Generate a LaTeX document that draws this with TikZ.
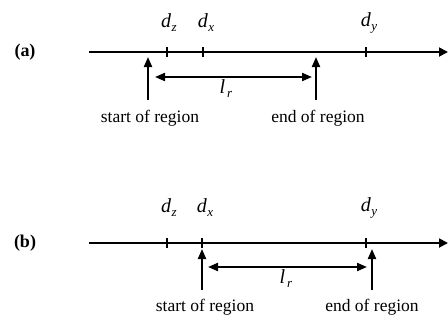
\documentclass[tikz,border=0pt]{standalone}
\usepackage{fontspec}
\setmainfont{Liberation Serif}
\usetikzlibrary{arrows.meta}
\tikzset{
  axisline/.style={line width=1.8pt,-{Triangle[length=9pt,width=9pt]}},
  tick/.style={line width=1.5pt},
  uparrow/.style={line width=2pt,-{Triangle[length=10pt,width=8pt]}},
  span/.style={line width=2pt,{Triangle[length=10pt,width=8pt]}-{Triangle[length=10pt,width=8pt]}},
  txt/.style={inner sep=0pt,font=\fontsize{17.5}{20}\selectfont},
  panel/.style={inner sep=0pt,font=\fontsize{18}{21}\selectfont\bfseries},
  dlab/.style={inner sep=0pt,font=\fontsize{20}{23}\selectfont},
}
\newcommand{\dl}[1]{\textit{d}\kern0.5pt\raisebox{-4pt}{\fontsize{13}{14}\selectfont\textit{#1}}}
\newcommand{\lr}{\textit{l}\kern2pt\raisebox{-4pt}{\fontsize{13}{14}\selectfont\textit{r}}}
\begin{document}
\begin{tikzpicture}[x=1pt,y=-1pt]
\useasboundingbox (0,0) rectangle (448,325);
% panel (a)
\node[panel] (pa) at (25,52) {(a)};
\coordinate (a0) at (89,52);
\coordinate (a1) at (448,52);
\draw[axisline] (a0) -- (a1);
\coordinate (az) at (167,52);
\coordinate (ax) at (203,52);
\coordinate (ay) at (366,52);
\foreach \p in {az,ax,ay} \draw[tick] ([yshift=-5pt]\p) -- ([yshift=5pt]\p);
\node[dlab] (laz) at (169,23) {\dl{z}};
\node[dlab] (lax) at (206,23) {\dl{x}};
\node[dlab] (lay) at (369,23) {\dl{y}};
\coordinate (as0) at (148,100);
\coordinate (as1) at (148,57);
\coordinate (ae0) at (316,100);
\coordinate (ae1) at (316,57);
\draw[uparrow] (as0) -- (as1);
\draw[uparrow] (ae0) -- (ae1);
\coordinate (al) at (155,77);
\coordinate (ar) at (312,77);
\draw[span] (al) -- (ar);
\node[dlab] (alr) at (226,89) {\lr};
\node[txt] (ast) at (150,118) {start of region};
\node[txt] (aen) at (318,118) {end of region};
% panel (b)
\node[panel] (pb) at (25,243) {(b)};
\coordinate (b0) at (89,243);
\coordinate (b1) at (448,243);
\draw[axisline] (b0) -- (b1);
\coordinate (bz) at (167,243);
\coordinate (bx) at (202,243);
\coordinate (by) at (366,243);
\foreach \p in {bz,bx,by} \draw[tick] ([yshift=-5pt]\p) -- ([yshift=5pt]\p);
\node[dlab] (lbz) at (169,208) {\dl{z}};
\node[dlab] (lbx) at (205,208) {\dl{x}};
\node[dlab] (lby) at (369,208) {\dl{y}};
\coordinate (bs0) at (202,290);
\coordinate (bs1) at (202,249);
\coordinate (be0) at (372,290);
\coordinate (be1) at (372,249);
\draw[uparrow] (bs0) -- (bs1);
\draw[uparrow] (be0) -- (be1);
\coordinate (bl) at (208,267);
\coordinate (br) at (367,267);
\draw[span] (bl) -- (br);
\node[dlab] (blr) at (286,279) {\lr};
\node[txt] (bst) at (205,307) {start of region};
\node[txt] (ben) at (372,307) {end of region};
\end{tikzpicture}
\end{document}
